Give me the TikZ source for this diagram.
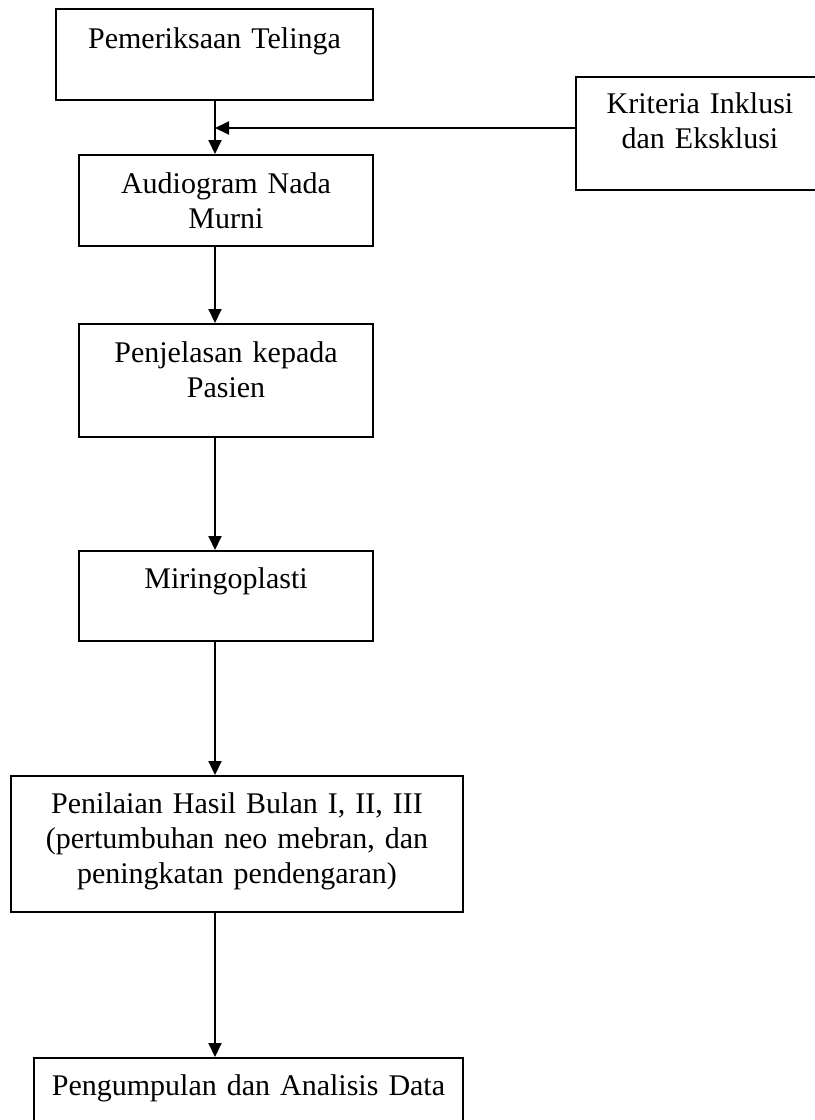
\documentclass[tikz,border=0pt]{standalone}
\usepackage{fontspec}
\setmainfont{Liberation Serif}
\usetikzlibrary{positioning,arrows.meta}
\newcommand{\px}{0.4pt}

\begin{document}
\begin{tikzpicture}[x=0.4pt, y=-0.4pt,
	box/.style={draw, line width=0.8pt, inner sep=0pt},
	boxtext/.style={anchor=base, align=center, inner sep=0pt,
		text width=#1, font=\fontsize{12pt}{14pt}\selectfont},
	flow/.style={-{Triangle[length=5.6pt,width=5.2pt]}, line width=0.8pt},
]
\useasboundingbox (0,0) rectangle (814,1120);

% Pemeriksaan telinga
\node [box,
	minimum width=317*\px,
	minimum height=91*\px
] (pemeriksaan) at (214.5,54.5) {};
\node [boxtext=300*\px] (pemeriksaan_text) at (214.5,48) {
Pemeriksaan Telinga
};

% Kriteria inklusi dan eksklusi
\node [box,
	minimum width=248*\px,
	minimum height=113*\px
] (kriteria) at (700,133.5) {};
\node [boxtext=230*\px] (kriteria_text) at (700,113) {
Kriteria Inklusi\\dan Eksklusi
};

% Audiogram
\node [box,
	minimum width=294*\px,
	minimum height=91*\px
] (audiogram) at (226,200.5) {};
\node [boxtext=280*\px] (audiogram_text) at (226,193) {
Audiogram Nada\\Murni
};

% Penjelasan
\node [box,
	minimum width=294*\px,
	minimum height=113*\px
] (penjelasan) at (226,380.5) {};
\node [boxtext=280*\px] (penjelasan_text) at (226,362) {
Penjelasan kepada\\Pasien
};

% Miringoplasti
\node [box,
	minimum width=294*\px,
	minimum height=90*\px
] (miringoplasti) at (226,596) {};
\node [boxtext=280*\px] (miringoplasti_text) at (226,588) {
Miringoplasti
};

% Penilaian hasil
\node [box,
	minimum width=452*\px,
	minimum height=136*\px
] (penilaian) at (237,844) {};
\node [boxtext=440*\px] (penilaian_text) at (237,813) {
Penilaian Hasil Bulan I, II, III\\(pertumbuhan neo mebran, dan\\peningkatan pendengaran)
};

% Pengumpulan data
\node [box,
	minimum width=429*\px,
	minimum height=66*\px
] (pengumpulan) at (248.5,1091) {};
\node [boxtext=420*\px] (pengumpulan_text) at (248.5,1095) {
Pengumpulan dan Analisis Data
};

% Arrows
\coordinate (join) at (215,128);

\draw[flow] (pemeriksaan.south -| join) -- (audiogram.north -| join);
\draw[flow] (kriteria.west |- join) -- (join);
\draw[flow] (audiogram.south -| join) -- (penjelasan.north -| join);
\draw[flow] (penjelasan.south -| join) -- (miringoplasti.north -| join);
\draw[flow] (miringoplasti.south -| join) -- (penilaian.north -| join);
\draw[flow] (penilaian.south -| join) -- (pengumpulan.north -| join);

\end{tikzpicture}
\end{document}
